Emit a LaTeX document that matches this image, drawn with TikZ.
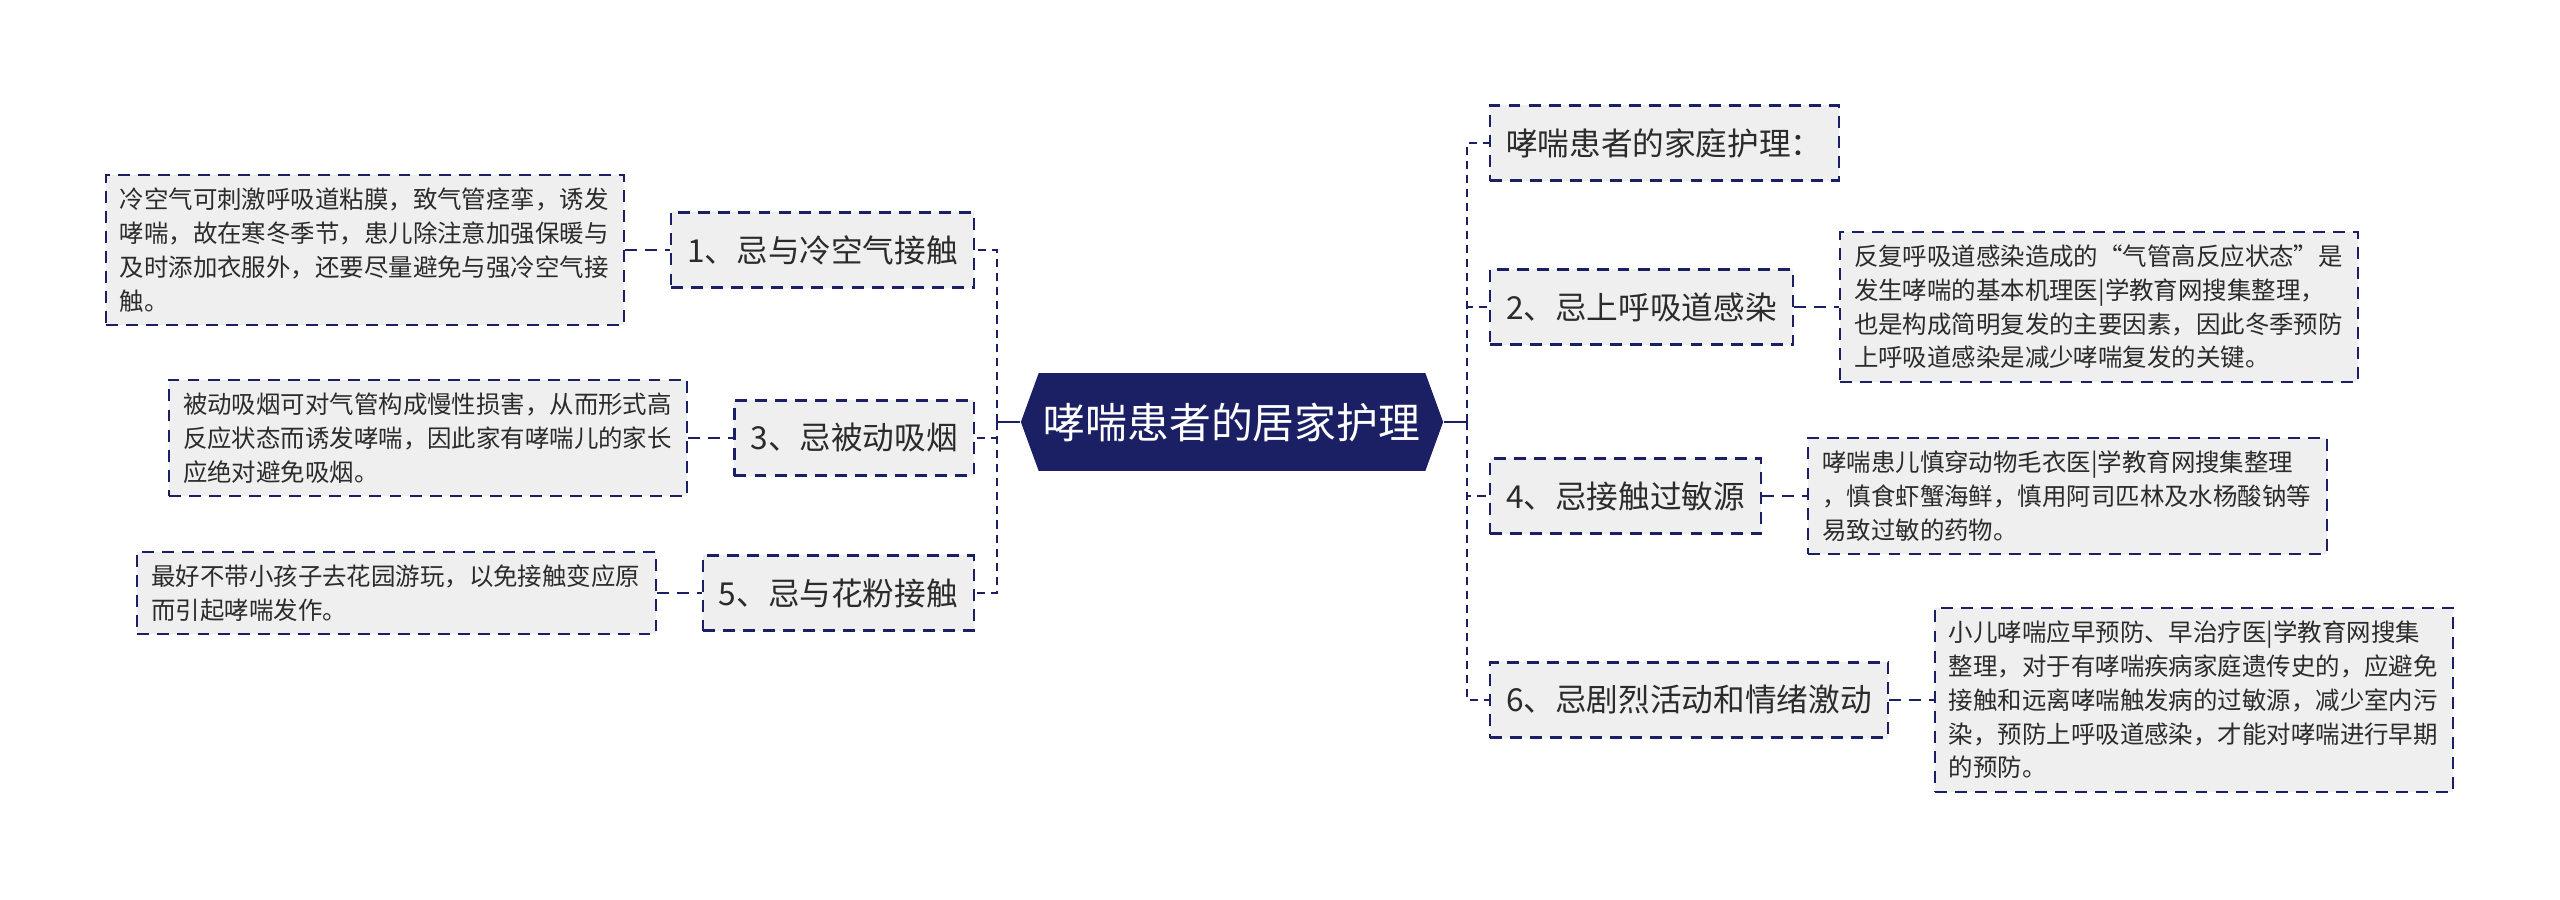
\documentclass[tikz,border=0pt]{standalone}
\usepackage{fontspec}
\setmainfont{Noto Sans CJK SC}
\usepackage{tikz}
\usetikzlibrary{positioning,shapes.symbols}
\definecolor{navy}{HTML}{1B2064}
\definecolor{boxgray}{HTML}{EFEFEF}
\definecolor{txtgray}{HTML}{2B2B2B}

\begin{document}
\begin{tikzpicture}[
        x=0.01cm, y=-0.01cm,
        every node/.append style={text=txtgray}
    ]
    \tikzstyle{root}=[shape=signal,signal to=west and east,signal pointer angle=140,fill=navy,text=white,inner xsep=0.05cm,inner ysep=0.295cm,font=\fontsize{11.9}{14}\selectfont];
    \tikzstyle{item}=[draw=navy,line width=0.6pt,dash pattern=on 3.4pt off 2.3pt,fill=boxgray,inner xsep=0.16cm,minimum height=0.75cm,font=\fontsize{9}{10.5}\selectfont];
    \tikzstyle{leaf}=[item,text width=4.9cm,align=left,inner xsep=0.14cm,inner ysep=0.13cm,minimum height=0cm,font=\fontsize{6.95}{9.6}\selectfont];
    \tikzstyle{link}=[draw=navy,line width=0.8pt,dash pattern=on 2.3pt off 1.7pt];
    \tikzstyle{twig}=[draw=navy,line width=0.6pt,dash pattern=on 3.4pt off 2.3pt];
    \useasboundingbox (0,0) rectangle (2560,900);
    % root
    \node[root] (root) at (1232,422) {哮喘患者的居家护理};
    \coordinate (lj) at (997,422);
    \coordinate (rj) at (1467,422);
    \draw[navy,line width=0.8pt] (root.west) -- (lj) (root.east) -- (rj);
    % left
    \node[item,anchor=east] (c1) at (975,250) {1、忌与冷空气接触};
    \node[item,anchor=east] (c3) at (975,438) {3、忌被动吸烟};
    \node[item,anchor=east] (c5) at (975,593) {5、忌与花粉接触};
    \node[leaf,left=0.45cm of c1] (l1) {冷空气可刺激呼吸道粘膜，致气管痉挛，诱发\\哮喘，故在寒冬季节，患儿除注意加强保暖与\\及时添加衣服外，还要尽量避免与强冷空气接\\触。};
    \node[leaf,left=0.45cm of c3] (l3) {被动吸烟可对气管构成慢性损害，从而形式高\\反应状态而诱发哮喘，因此家有哮喘儿的家长\\应绝对避免吸烟。};
    \node[leaf,left=0.45cm of c5] (l5) {最好不带小孩子去花园游玩，以免接触变应原\\而引起哮喘发作。};
    \foreach \c in {c1,c3,c5} \draw[link] (lj) |- (\c.east);
    \draw[twig] (l1.east) -- (c1.west) (l3.east) -- (c3.west) (l5.east) -- (c5.west);
    % right
    \node[item,anchor=west] (c0) at (1489,143) {哮喘患者的家庭护理：};
    \node[item,anchor=west] (c2) at (1489,307) {2、忌上呼吸道感染};
    \node[item,anchor=west] (c4) at (1489,496) {4、忌接触过敏源};
    \node[item,anchor=west] (c6) at (1489,700) {6、忌剧烈活动和情绪激动};
    \node[leaf,right=0.45cm of c2] (l2) {反复呼吸道感染造成的“气管高反应状态”是\\发生哮喘的基本机理医|学教育网搜集整理，\\也是构成简明复发的主要因素，因此冬季预防\\上呼吸道感染是减少哮喘复发的关键。};
    \node[leaf,right=0.45cm of c4] (l4) {哮喘患儿慎穿动物毛衣医|学教育网搜集整理\\，慎食虾蟹海鲜，慎用阿司匹林及水杨酸钠等\\易致过敏的药物。};
    \node[leaf,right=0.45cm of c6] (l6) {小儿哮喘应早预防、早治疗医|学教育网搜集\\整理，对于有哮喘疾病家庭遗传史的，应避免\\接触和远离哮喘触发病的过敏源，减少室内污\\染，预防上呼吸道感染，才能对哮喘进行早期\\的预防。};
    \foreach \c in {c0,c2,c4,c6} \draw[link] (rj) |- (\c.west);
    \draw[twig] (c2.east) -- (l2.west) (c4.east) -- (l4.west) (c6.east) -- (l6.west);
\end{tikzpicture}
\end{document}
